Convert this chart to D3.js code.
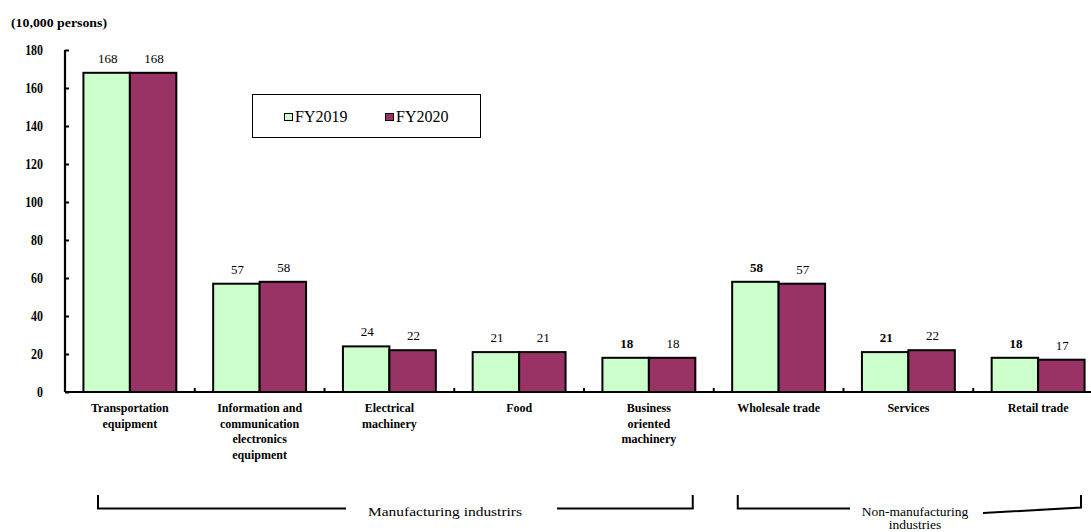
<!DOCTYPE html>
<html>
<head>
<meta charset="utf-8">
<script src="https://cdn.jsdelivr.net/npm/d3@7"></script>
<style>
  html, body { margin: 0; padding: 0; background: #fff; }
  svg text { font-family: 'Liberation Serif', 'Times New Roman', 'DejaVu Serif', serif; }
</style>
</head>
<body>
<svg id="chart" width="1091" height="532"></svg>
<script>
// Employees by industry, FY2019 vs FY2020 (10,000 persons)
const categories = [
  ["Transportation", "equipment"],
  ["Information and", "communication", "electronics", "equipment"],
  ["Electrical", "machinery"],
  ["Food"],
  ["Business", "oriented", "machinery"],
  ["Wholesale trade"],
  ["Services"],
  ["Retail trade"]
];
const seriesNames = ["FY2019", "FY2020"];
const fy2019 = [168, 57, 24, 21, 18, 58, 21, 18];
const fy2020 = [168, 58, 22, 21, 18, 57, 22, 17];
// value labels drawn in bold type
const boldFy2019 = [false, false, false, false, true, true, true, true];
const boldFy2020 = [false, false, false, false, false, false, false, false];
const yTicks = [0, 20, 40, 60, 80, 100, 120, 140, 160, 180];
const groups = [
  { name: ["Manufacturing  industrirs"], from: 0, to: 4 },
  { name: ["Non-manufacturing", "industries"], from: 5, to: 7 }
];
const colors = ["#CCFFCC", "#993366"];
const serif = "'Liberation Serif', 'Times New Roman', 'DejaVu Serif', serif";

const svg = d3.select("#chart").attr("font-family", serif);
const plotLeft = 65, plotRight = 1103, plotTop = 50, plotBottom = 392;

const x = d3.scaleBand()
  .domain(d3.range(categories.length))
  .range([plotLeft, plotRight])
  .paddingInner(0.284)
  .paddingOuter(0.142);
const xs = d3.scaleBand().domain([0, 1]).range([0, x.bandwidth()]);
const y = d3.scaleLinear().domain([0, 180]).range([plotBottom, plotTop]);
const step = x.step();

// unit label
svg.append("text")
  .attr("x", 11).attr("y", 27)
  .attr("font-size", 12).attr("font-weight", "bold")
  .attr("textLength", 96).attr("lengthAdjust", "spacingAndGlyphs")
  .text("(10,000 persons)");

// y axis
const yAxis = d3.axisRight(y).tickValues(yTicks).tickSize(4).tickFormat("");
const gy = svg.append("g").attr("transform", `translate(${plotLeft},0)`).call(yAxis);
gy.select(".domain").attr("stroke", "#000").attr("stroke-width", 2.2)
  .attr("d", `M0,${plotTop}V${plotBottom}`);
gy.selectAll(".tick line").attr("stroke", "#000").attr("stroke-width", 2);
svg.append("g").selectAll("text").data(yTicks).join("text")
  .attr("transform", d => `translate(43,${y(d) + 4.5}) scale(0.85,1)`)
  .attr("text-anchor", "end")
  .attr("font-size", 14).attr("font-weight", "bold")
  .text(d => d);

// bars
const data = categories.map((c, i) => ({ i, vals: [fy2019[i], fy2020[i]], bold: [boldFy2019[i], boldFy2020[i]] }));
const g = svg.append("g").selectAll("g").data(data).join("g")
  .attr("transform", d => `translate(${x(d.i)},0)`);
g.selectAll("rect").data(d => d.vals.map((v, s) => ({ v, s })))
  .join("rect")
  .attr("x", d => xs(d.s)).attr("width", xs.bandwidth())
  .attr("y", d => y(d.v)).attr("height", d => y(0) - y(d.v))
  .attr("fill", d => colors[d.s])
  .attr("stroke", "#000").attr("stroke-width", 2);
g.selectAll("text.val").data(d => d.vals.map((v, s) => ({ v, s, b: d.bold[s] })))
  .join("text").attr("class", "val")
  .attr("x", d => xs(d.s) + xs.bandwidth() / 2 + 1)
  .attr("y", d => y(d.v) - 10)
  .attr("text-anchor", "middle")
  .attr("font-size", 13)
  .attr("font-weight", d => d.b ? "bold" : "normal")
  .text(d => d.v);

// x axis baseline and category separators
svg.append("line").attr("x1", plotLeft).attr("x2", 1091)
  .attr("y1", plotBottom).attr("y2", plotBottom)
  .attr("stroke", "#000").attr("stroke-width", 2.2);
svg.append("g").selectAll("line").data(d3.range(1, categories.length)).join("line")
  .attr("x1", i => plotLeft + i * step).attr("x2", i => plotLeft + i * step)
  .attr("y1", plotBottom - 4).attr("y2", plotBottom)
  .attr("stroke", "#000").attr("stroke-width", 2);

// category labels
const cl = svg.append("g").selectAll("text").data(categories).join("text")
  .attr("text-anchor", "middle")
  .attr("font-size", 12).attr("font-weight", "bold")
  .attr("transform", (d, i) => `translate(${x(i) + x.bandwidth() / 2},0)`);
cl.selectAll("tspan").data(d => d).join("tspan")
  .attr("x", 0).attr("y", (d, k) => 412 + k * 15.7)
  .text(d => d);

// legend
const lg = svg.append("g");
lg.append("rect").attr("x", 252.5).attr("y", 94.5).attr("width", 228).attr("height", 43)
  .attr("fill", "#fff").attr("stroke", "#000").attr("stroke-width", 1);
seriesNames.forEach((n, s) => {
  const lx = 284 + s * 101;
  lg.append("rect").attr("x", lx + 0.5).attr("y", 113.5).attr("width", 8).attr("height", 7)
    .attr("fill", colors[s]).attr("stroke", "#000").attr("stroke-width", 1);
  lg.append("text").attr("x", lx + 11).attr("y", 122)
    .attr("font-size", 16).text(n);
});

// industry group brackets
const br = svg.append("g").attr("stroke", "#000").attr("stroke-width", 2).attr("fill", "none");
const gl = svg.append("g");
groups.forEach((grp, gi) => {
  const x0 = plotLeft + grp.from * step + (gi === 0 ? 33 : 24);
  const x1 = plotLeft + (grp.to + 1) * step - (gi === 0 ? 21 : 22);
  const cx = gi === 0 ? 445 : 915;
  const gapL = gi === 0 ? 346 : 850;
  const gapR = gi === 0 ? 557 : 983;
  br.append("path").attr("d", `M${x0},495V508.5H${gapL}`);
  br.append("path").attr("d", gi === 0
    ? `M${gapR},508.5H${x1}V495`
    : `M${gapR},513L${x1},507.5V495`);
  const t = gl.append("text").attr("text-anchor", "middle").attr("font-size", 13.5);
  const sp = t.selectAll("tspan").data(grp.name).join("tspan")
    .attr("x", cx).attr("y", (d, k) => 516 + k * 13).text(d => d);
  if (gi === 0) sp.attr("textLength", 154).attr("lengthAdjust", "spacingAndGlyphs");
});
</script>
</body>
</html>
